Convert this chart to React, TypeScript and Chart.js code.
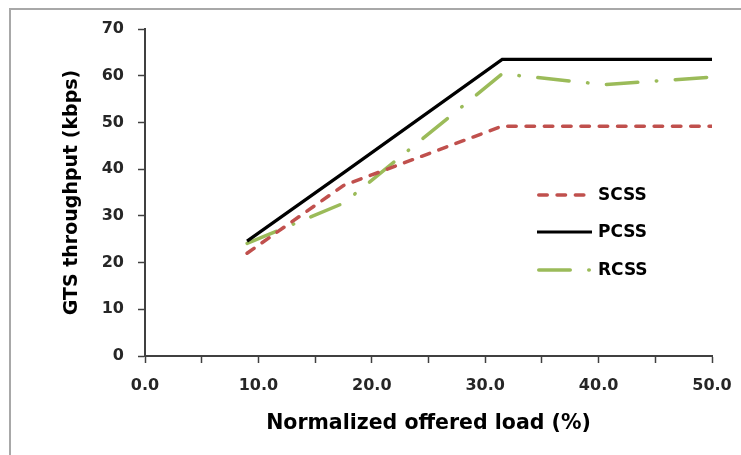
import React, { useEffect, useRef } from "react";
import { Chart, registerables } from "chart.js";

Chart.register(...registerables);

// ---- data ----
const loads = [9, 17.5, 31.5, 40.5, 50];
const scss = [22.0, 36.5, 49.2, 49.2, 49.2];
const pcss = [24.6, 39.2, 63.5, 63.5, 63.5];
const rcss = [24.1, 32.7, 60.4, 58.1, 59.7];
const seriesNames = ["SCSS", "PCSS", "RCSS"];
const xTitle = "Normalized offered load (%)";
const yTitle = "GTS throughput (kbps)";

const FONT = "'DejaVu Sans', 'Liberation Sans', sans-serif";

const frame = {
  id: "frame",
  beforeDraw(chart: any) {
    const ctx = chart.ctx;
    ctx.save();
    ctx.strokeStyle = "#a8a8a8";
    ctx.lineWidth = 2;
    ctx.beginPath();
    ctx.moveTo(10, chart.height);
    ctx.lineTo(10, 9);
    ctx.lineTo(chart.width, 9);
    ctx.stroke();
    ctx.restore();
  },
};

const insideLegend = {
  id: "insideLegend",
  afterDraw(chart: any) {
    const ctx = chart.ctx;
    const ys = [195, 232, 270];
    const xStart = 537;
    const xEnd = 592;
    const textX = 598;
    chart.data.datasets.forEach((ds: any, i: number) => {
      ctx.save();
      const w = ds.borderWidth;
      const round = ds.borderCapStyle === "round";
      ctx.strokeStyle = ds.borderColor;
      ctx.lineWidth = w;
      ctx.lineCap = ds.borderCapStyle || "butt";
      ctx.setLineDash(ds.borderDash || []);
      ctx.beginPath();
      ctx.moveTo(round ? xStart + w / 2 : xStart, ys[i]);
      ctx.lineTo(round ? xEnd - w / 2 : xEnd, ys[i]);
      ctx.stroke();
      ctx.setLineDash([]);
      ctx.fillStyle = "#000";
      ctx.font = `bold 17px ${FONT}`;
      ctx.textBaseline = "middle";
      ctx.textAlign = "left";
      ctx.fillText(ds.label, textX, ys[i] + 1);
      ctx.restore();
    });
  },
};

function toPoints(values: number[]) {
  return values.map((v, i) => ({ x: loads[i], y: v }));
}

export default function App() {
  const ref = useRef<HTMLCanvasElement | null>(null);

  useEffect(() => {
    if (!ref.current) return;
    const chart = new Chart(ref.current, {
      type: "line",
      data: {
        datasets: [
          {
            label: seriesNames[0],
            data: toPoints(scss),
            borderColor: "#C0504D",
            borderWidth: 3.5,
            borderDash: [8.5, 9.8],
            borderCapStyle: "round",
            pointRadius: 0,
            tension: 0,
            fill: false,
          },
          {
            label: seriesNames[1],
            data: toPoints(pcss),
            borderColor: "#000000",
            borderWidth: 3.2,
            borderCapStyle: "butt",
            borderJoinStyle: "miter",
            pointRadius: 0,
            tension: 0,
            fill: false,
          },
          {
            label: seriesNames[2],
            data: toPoints(rcss),
            borderColor: "#9BBB59",
            borderWidth: 3.5,
            borderDash: [31.5, 18.5, 0.5, 18.5],
            borderCapStyle: "round",
            pointRadius: 0,
            tension: 0,
            fill: false,
          },
        ],
      },
      options: {
        animation: false,
        responsive: false,
        devicePixelRatio: 1,
        layout: { padding: { left: 0, right: 29, top: 29, bottom: 0 } },
        plugins: {
          legend: { display: false },
          tooltip: { enabled: false },
        },
        scales: {
          x: {
            type: "linear",
            min: 0,
            max: 50,
            afterFit: (s: any) => {
              s.height = 99;
              s.paddingLeft = 0;
              s.paddingRight = 0;
            },
            ticks: {
              stepSize: 5,
              autoSkip: false,
              maxRotation: 0,
              padding: 13,
              color: "#262626",
              font: { family: FONT, size: 16, weight: "bold" },
              callback: (v: any) => (Number(v) % 10 === 0 ? Number(v).toFixed(1) : ""),
            },
            grid: {
              display: true,
              drawOnChartArea: false,
              drawTicks: true,
              tickLength: 7,
              tickColor: "#404040",
              tickWidth: 1.5,
            },
            border: { display: true, color: "#404040", width: 2 },
            title: {
              display: true,
              text: xTitle,
              color: "#000",
              font: { family: FONT, size: 20.5, weight: "bold" },
              padding: { top: 0, bottom: 18.7 },
            },
          },
          y: {
            type: "linear",
            min: 0,
            max: 70,
            afterFit: (s: any) => {
              s.width = 145;
              s.paddingTop = 0;
              s.paddingBottom = 0;
            },
            ticks: {
              stepSize: 10,
              padding: 14,
              color: "#262626",
              font: { family: FONT, size: 16, weight: "bold" },
              callback: (v: any) => String(v),
            },
            grid: {
              display: true,
              drawOnChartArea: false,
              drawTicks: true,
              tickLength: 7,
              tickColor: "#404040",
              tickWidth: 1.5,
            },
            border: { display: true, color: "#404040", width: 2 },
            title: {
              display: true,
              text: yTitle,
              color: "#000",
              font: { family: FONT, size: 19, weight: "bold" },
              padding: { top: 60.6, bottom: 0 },
            },
          },
        },
      },
      plugins: [frame, insideLegend],
    } as any);
    return () => chart.destroy();
  }, []);

  return (
    <div style={{ position: "fixed", left: 0, top: 0, width: 741, height: 455, background: "#fff" }}>
      <canvas ref={ref} width={741} height={455} style={{ display: "block", width: 741, height: 455 }} />
    </div>
  );
}
